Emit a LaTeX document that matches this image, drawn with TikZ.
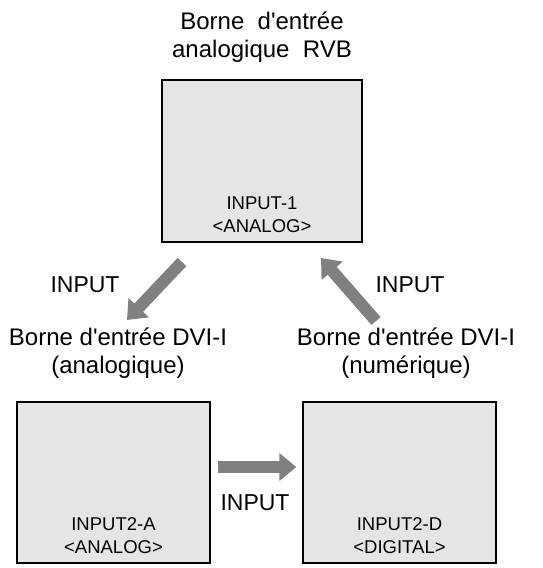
\documentclass[tikz,border=0pt]{standalone}
\usepackage{fontspec}
\setmainfont{Liberation Sans}[Ligatures=TeXOff]
\usetikzlibrary{positioning,arrows.meta}

\tikzset{
	panel/.style={draw=black, line width=1.4pt, fill=black!10, inner sep=0pt,
		minimum width=#1, minimum height=161pt},
	panel/.default=193pt,
	caption/.style={align=center, inner sep=0pt, font=\fontsize{18.5}{23}\selectfont},
	heading/.style={align=center, inner sep=0pt, font=\fontsize{24}{28}\selectfont},
	keyname/.style={inner sep=0pt, font=\fontsize{23}{28}\selectfont},
	bigarrow/.style={draw=black!50, line width=12pt, -{Triangle[length=17pt,width=27pt]}}
}

\begin{document}
\begin{tikzpicture}[x=1pt,y=-1pt,node distance=20pt]
	\useasboundingbox (0,0) rectangle (543,568);
	% the three input panels
	\node[panel=200pt, minimum height=162pt] (in1) at (262,161) {};
	\node[panel] (in2a) at (113.5,482.5) {};
	\node[panel] (in2d) at (399.5,482.5) {};
	% texts inside the panels
	\node[caption, above=10pt of in1.south] (in1txt) {INPUT-1\\<ANALOG>};
	\node[caption, above=10pt of in2a.south] (in2atxt) {INPUT2-A\\<ANALOG>};
	\node[caption, above=10pt of in2d.south] (in2dtxt) {INPUT2-D\\<DIGITAL>};
	% headings
	\node[heading, above=17pt of in1] (in1head) {Borne\ \ d'entrée\\analogique\ \ RVB};
	\node[heading, above=23pt of in2a, xshift=4.5pt] (in2ahead) {Borne d'entrée DVI-I\\(analogique)};
	\node[heading, above=23pt of in2d, xshift=6.5pt] (in2dhead) {Borne d'entrée DVI-I\\(numérique)};
	% arrow ends
	\coordinate (s1) at (182,262);
	\coordinate (e1) at (127,320);
	\coordinate (s2) at (376,321);
	\coordinate (e2) at (321,258);
	\draw[bigarrow] (s1) -- (e1);
	\draw[bigarrow] (s2) -- (e2);
	\draw[bigarrow] ([xshift=7pt,yshift=15.5pt]in2a.east) -- ([xshift=-6pt,yshift=15.5pt]in2d.west);
	% key labels
	\node[keyname] (keyl) at (85,285) {INPUT};
	\node[keyname] (keyr) at (410,285) {INPUT};
	\node[keyname] (keyb) at (255,503) {INPUT};
\end{tikzpicture}
\end{document}
